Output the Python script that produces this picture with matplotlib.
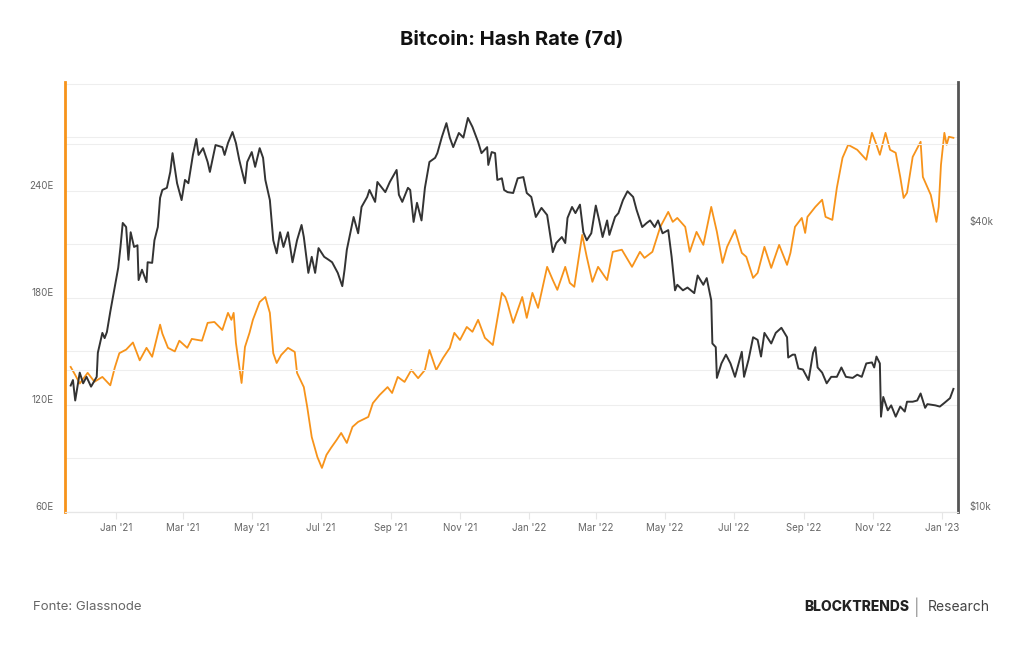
import matplotlib
matplotlib.use("Agg")
import matplotlib.pyplot as plt
import matplotlib.dates as mdates
import matplotlib.ticker as mticker
import pandas as pd

plt.rcParams['font.family'] = ['Inter', 'DejaVu Sans']

# Hash rate (7d MA), in EH/s
hash_dates = [
    "2020-11-22", "2020-11-26", "2020-11-30", "2020-12-07", "2020-12-13", "2020-12-20", "2020-12-27",
    "2020-12-31", "2021-01-04", "2021-01-10", "2021-01-16", "2021-01-22", "2021-01-28", "2021-02-02",
    "2021-02-09", "2021-02-11", "2021-02-16", "2021-02-22", "2021-02-26", "2021-03-05", "2021-03-09",
    "2021-03-18", "2021-03-23", "2021-03-29", "2021-04-05", "2021-04-10", "2021-04-13", "2021-04-15",
    "2021-04-17", "2021-04-22", "2021-04-25", "2021-04-29", "2021-05-02", "2021-05-08", "2021-05-13",
    "2021-05-17", "2021-05-20", "2021-05-23", "2021-05-27", "2021-06-02", "2021-06-08", "2021-06-10",
    "2021-06-16", "2021-06-19", "2021-06-23", "2021-06-28", "2021-07-02", "2021-07-06", "2021-07-10",
    "2021-07-15", "2021-07-19", "2021-07-24", "2021-07-29", "2021-08-03", "2021-08-12", "2021-08-16",
    "2021-08-22", "2021-08-29", "2021-09-02", "2021-09-07", "2021-09-13", "2021-09-19", "2021-09-25",
    "2021-10-01", "2021-10-05", "2021-10-11", "2021-10-17", "2021-10-23", "2021-10-27", "2021-11-01",
    "2021-11-07", "2021-11-12", "2021-11-17", "2021-11-23", "2021-11-30", "2021-12-08", "2021-12-11",
    "2021-12-13", "2021-12-18", "2021-12-26", "2021-12-30", "2022-01-04", "2022-01-09", "2022-01-17",
    "2022-01-22", "2022-01-26", "2022-02-02", "2022-02-06", "2022-02-10", "2022-02-17", "2022-02-21",
    "2022-02-26", "2022-03-03", "2022-03-11", "2022-03-16", "2022-03-24", "2022-04-02", "2022-04-09",
    "2022-04-13", "2022-04-20", "2022-04-27", "2022-05-04", "2022-05-08", "2022-05-12", "2022-05-19",
    "2022-05-23", "2022-05-29", "2022-06-04", "2022-06-11", "2022-06-16", "2022-06-21", "2022-06-25",
    "2022-07-02", "2022-07-08", "2022-07-12", "2022-07-18", "2022-07-22", "2022-07-28", "2022-08-03",
    "2022-08-10", "2022-08-17", "2022-08-20", "2022-08-24", "2022-08-30", "2022-09-02", "2022-09-04",
    "2022-09-11", "2022-09-17", "2022-09-20", "2022-09-26", "2022-09-30", "2022-10-05", "2022-10-10",
    "2022-10-18", "2022-10-22", "2022-10-26", "2022-10-31", "2022-11-04", "2022-11-07", "2022-11-12",
    "2022-11-16", "2022-11-21", "2022-11-25", "2022-11-28", "2022-12-01", "2022-12-06", "2022-12-13",
    "2022-12-15", "2022-12-22", "2022-12-27", "2022-12-29", "2022-12-31", "2023-01-03", "2023-01-05",
    "2023-01-07", "2023-01-11",
]
hash_values = [
    141.3, 136.8, 132.0, 138.0, 133.0, 135.7, 131.0,
    141.0, 149.0, 151.0, 155.0, 145.0, 152.0, 147.0,
    165.0, 160.0, 152.0, 150.0, 156.0, 152.0, 157.0,
    156.0, 166.0, 166.5, 162.0, 171.6, 167.7, 171.6,
    154.8, 132.3, 152.5, 160.4, 167.7, 177.7, 180.5,
    171.6, 149.0, 143.5, 148.0, 152.0, 149.7, 138.0,
    130.0, 118.9, 102.0, 90.8, 84.7, 92.0, 95.9,
    100.4, 104.3, 98.7, 107.7, 110.5, 113.3, 121.0,
    125.6, 130.0, 126.7, 135.7, 132.9, 139.6, 135.0,
    139.6, 150.8, 139.6, 146.3, 152.0, 160.4, 156.4,
    163.7, 161.0, 167.7, 157.6, 153.6, 182.8, 180.5,
    177.0, 166.0, 180.5, 168.8, 182.8, 174.4, 197.4,
    190.0, 184.5, 197.4, 188.4, 186.2, 215.3, 203.0,
    189.0, 197.4, 190.0, 205.8, 207.0, 197.4, 205.8,
    202.4, 205.8, 219.8, 228.2, 222.6, 224.8, 219.8,
    205.8, 217.0, 209.7, 231.0, 217.0, 199.6, 208.6,
    218.0, 205.2, 203.0, 191.2, 194.0, 208.6, 196.8,
    209.7, 198.5, 205.2, 219.8, 224.8, 216.4, 225.4,
    231.0, 235.0, 225.4, 223.7, 241.7, 258.5, 265.8,
    263.0, 260.2, 257.4, 272.5, 265.8, 260.2, 272.5,
    263.0, 261.3, 247.8, 236.0, 238.9, 259.0, 267.5,
    247.8, 237.7, 222.6, 231.0, 254.6, 272.5, 265.8,
    270.3, 269.7,
]

# BTC price, in USD thousands
price_dates = [
    "2020-11-22", "2020-11-24", "2020-11-26", "2020-11-30", "2020-12-03", "2020-12-06", "2020-12-10",
    "2020-12-15", "2020-12-16", "2020-12-20", "2020-12-22", "2020-12-24", "2020-12-27", "2020-12-30",
    "2021-01-03", "2021-01-05", "2021-01-07", "2021-01-10", "2021-01-12", "2021-01-14", "2021-01-17",
    "2021-01-20", "2021-01-21", "2021-01-24", "2021-01-28", "2021-01-29", "2021-02-02", "2021-02-04",
    "2021-02-07", "2021-02-09", "2021-02-11", "2021-02-15", "2021-02-18", "2021-02-20", "2021-02-24",
    "2021-02-28", "2021-03-03", "2021-03-06", "2021-03-10", "2021-03-13", "2021-03-15", "2021-03-19",
    "2021-03-23", "2021-03-25", "2021-03-30", "2021-04-05", "2021-04-07", "2021-04-10", "2021-04-14",
    "2021-04-17", "2021-04-20", "2021-04-25", "2021-04-27", "2021-05-01", "2021-05-04", "2021-05-08",
    "2021-05-11", "2021-05-13", "2021-05-17", "2021-05-20", "2021-05-23", "2021-05-26", "2021-05-29",
    "2021-06-02", "2021-06-06", "2021-06-10", "2021-06-14", "2021-06-16", "2021-06-20", "2021-06-23",
    "2021-06-26", "2021-06-29", "2021-07-04", "2021-07-08", "2021-07-11", "2021-07-16", "2021-07-20",
    "2021-07-22", "2021-07-24", "2021-07-30", "2021-08-03", "2021-08-06", "2021-08-11", "2021-08-13",
    "2021-08-18", "2021-08-20", "2021-08-27", "2021-08-31", "2021-09-06", "2021-09-08", "2021-09-11",
    "2021-09-16", "2021-09-18", "2021-09-21", "2021-09-24", "2021-09-28", "2021-10-01", "2021-10-05",
    "2021-10-10", "2021-10-12", "2021-10-16", "2021-10-20", "2021-10-23", "2021-10-26", "2021-10-31",
    "2021-11-04", "2021-11-08", "2021-11-12", "2021-11-17", "2021-11-20", "2021-11-25", "2021-11-26",
    "2021-11-29", "2021-12-02", "2021-12-04", "2021-12-08", "2021-12-10", "2021-12-13", "2021-12-18",
    "2021-12-22", "2021-12-27", "2021-12-30", "2022-01-03", "2022-01-07", "2022-01-12", "2022-01-17",
    "2022-01-22", "2022-01-25", "2022-01-30", "2022-02-02", "2022-02-04", "2022-02-08", "2022-02-11",
    "2022-02-15", "2022-02-18", "2022-02-21", "2022-02-25", "2022-03-01", "2022-03-04", "2022-03-07",
    "2022-03-11", "2022-03-13", "2022-03-18", "2022-03-21", "2022-03-25", "2022-03-29", "2022-04-03",
    "2022-04-06", "2022-04-11", "2022-04-15", "2022-04-18", "2022-04-22", "2022-04-25", "2022-04-29",
    "2022-05-04", "2022-05-07", "2022-05-10", "2022-05-12", "2022-05-17", "2022-05-21", "2022-05-27",
    "2022-05-30", "2022-06-04", "2022-06-07", "2022-06-11", "2022-06-12", "2022-06-15", "2022-06-16",
    "2022-06-20", "2022-06-24", "2022-06-28", "2022-07-02", "2022-07-08", "2022-07-10", "2022-07-14",
    "2022-07-18", "2022-07-22", "2022-07-25", "2022-07-28", "2022-08-03", "2022-08-07", "2022-08-12",
    "2022-08-17", "2022-08-18", "2022-08-22", "2022-08-24", "2022-08-27", "2022-08-31", "2022-09-05",
    "2022-09-09", "2022-09-11", "2022-09-13", "2022-09-17", "2022-09-21", "2022-09-25", "2022-09-30",
    "2022-10-04", "2022-10-08", "2022-10-14", "2022-10-18", "2022-10-22", "2022-10-26", "2022-10-31",
    "2022-11-02", "2022-11-04", "2022-11-07", "2022-11-08", "2022-11-10", "2022-11-14", "2022-11-17",
    "2022-11-21", "2022-11-25", "2022-11-29", "2022-12-01", "2022-12-06", "2022-12-10", "2022-12-13",
    "2022-12-17", "2022-12-19", "2022-12-26", "2022-12-30", "2023-01-03", "2023-01-08", "2023-01-11",
]
price_values = [
    18.5, 19.0, 17.2, 19.7, 18.7, 19.3, 18.4,
    19.3, 21.7, 23.9, 23.3, 24.0, 26.5, 29.0,
    32.8, 36.3, 40.8, 40.0, 34.1, 39.0, 36.3,
    36.6, 30.9, 32.5, 30.6, 33.7, 33.6, 37.5,
    40.0, 46.1, 47.9, 48.4, 52.3, 57.3, 49.5,
    45.6, 50.3, 49.5, 56.8, 61.4, 56.8, 58.7,
    54.9, 52.3, 59.6, 59.0, 56.8, 60.2, 63.5,
    60.2, 55.4, 49.5, 54.9, 57.6, 53.6, 58.7,
    56.0, 50.3, 45.6, 37.5, 35.2, 39.0, 36.3,
    39.0, 33.7, 37.5, 40.4, 38.1, 32.0, 34.6,
    32.0, 36.1, 34.6, 34.1, 33.7, 32.0, 30.0,
    32.5, 35.8, 42.0, 38.8, 44.1, 46.3, 47.9,
    45.2, 49.8, 47.4, 49.8, 52.8, 46.8, 45.2,
    48.4, 47.9, 41.0, 45.0, 41.3, 48.4, 54.9,
    56.0, 57.3, 62.0, 66.3, 61.8, 59.0, 63.2,
    61.8, 68.0, 65.1, 60.5, 57.3, 59.0, 54.1,
    57.6, 57.3, 50.3, 50.7, 47.9, 47.4, 47.2,
    50.7, 51.0, 47.2, 46.3, 42.0, 43.9, 42.4,
    35.4, 37.0, 38.1, 37.0, 41.8, 44.1, 42.8,
    44.6, 39.0, 37.5, 38.8, 44.4, 41.3, 38.1,
    41.3, 38.5, 42.0, 42.8, 45.6, 47.6, 46.3,
    43.5, 40.0, 40.8, 41.3, 40.0, 41.3, 38.8,
    39.4, 34.6, 29.4, 30.2, 29.4, 29.8, 29.0,
    31.6, 30.2, 31.2, 28.0, 22.7, 22.3, 19.2,
    20.6, 21.5, 20.6, 19.3, 21.8, 19.3, 21.0,
    23.4, 23.1, 21.3, 23.9, 22.7, 23.9, 24.5,
    23.4, 21.2, 21.5, 21.5, 20.1, 20.0, 19.0,
    21.7, 22.3, 20.2, 19.7, 18.7, 19.3, 19.3,
    20.2, 19.3, 19.2, 19.5, 19.3, 20.6, 20.7,
    20.2, 21.3, 20.6, 15.9, 17.5, 16.4, 16.8,
    15.9, 16.7, 16.3, 17.1, 17.1, 17.2, 17.8,
    16.6, 16.9, 16.8, 16.7, 17.0, 17.4, 18.2,
]

hash_ticks = [60, 120, 180, 240]
hash_grid = [90, 150, 210, 270, 300]
price_ticks = [10, 40]
price_grid = [20, 60]

ORANGE = "#F7931A"
DARK = "#333333"
GRID = "#EEEEEE"
TXT = "#666666"

fig = plt.figure(figsize=(10.24, 6.45), dpi=100)
ax = fig.add_axes([0.0635, 0.2062, 0.872, 0.6667])
ax2 = ax.twinx()

hd = pd.to_datetime(hash_dates)
pdt = pd.to_datetime(price_dates)

ax.plot(hd, hash_values, color=ORANGE, lw=1.3, zorder=3)
ax2.plot(pdt, [v * 1000 for v in price_values], color=DARK, lw=1.4, zorder=3)

ax.set_ylim(60, 301)
ax.set_yticks(hash_ticks)
ax.set_yticks(hash_grid, minor=True)
ax.set_yticklabels([f"{v}E" for v in hash_ticks], va="bottom")
ax.grid(True, which="both", axis="y", color=GRID, lw=0.8)
ax.tick_params(axis="y", which="both", length=0, labelsize=7, labelcolor=TXT, pad=8)

ax2.set_yscale("log")
ax2.set_ylim(10000, 81000)
ax2.yaxis.set_major_locator(mticker.FixedLocator([v * 1000 for v in price_ticks]))
ax2.yaxis.set_minor_locator(mticker.NullLocator())
ax2.yaxis.set_major_formatter(mticker.FuncFormatter(lambda v, p: f"${v/1000:.0f}k"))
ax2.tick_params(axis="y", length=0, labelsize=7, labelcolor=TXT, pad=8)
for lbl in ax2.get_yticklabels():
    lbl.set_va("bottom")
for v in price_grid:
    ax2.axhline(v * 1000, color=GRID, lw=0.8, zorder=0)

ax.set_xlim(pd.Timestamp("2020-11-17"), pd.Timestamp("2023-01-15"))
ax.xaxis.set_major_locator(mdates.MonthLocator(bymonth=[1, 3, 5, 7, 9, 11]))
ax.xaxis.set_major_formatter(mdates.DateFormatter("%b '%y"))
ax.tick_params(axis="x", length=5, color="#E6E6E6", labelsize=7, labelcolor=TXT, pad=3)

for a in (ax, ax2):
    a.spines["top"].set_visible(False)
    a.spines["bottom"].set_color("#E6E6E6")
    a.spines["left"].set_visible(False)
    a.spines["right"].set_visible(False)
ax2.spines["left"].set_visible(True)
ax2.spines["left"].set_color(ORANGE)
ax2.spines["left"].set_linewidth(2)
ax2.spines["right"].set_visible(True)
ax2.spines["right"].set_color("#555555")
ax2.spines["right"].set_linewidth(2)

fig.text(0.5, 0.938, "Bitcoin: Hash Rate (7d)", ha="center", va="center",
         fontsize=14.5, fontweight="bold", color="#111111")
fig.text(0.032, 0.059, "Fonte: Glassnode", ha="left", va="center", fontsize=9.5, color=TXT)
fig.text(0.888, 0.059, "BLOCKTRENDS", ha="right", va="center", fontsize=10,
         fontweight="heavy", color="#222222")
fig.text(0.8955, 0.059, "|", ha="center", va="center", fontsize=12, color="#999999")
fig.text(0.906, 0.059, "Research", ha="left", va="center", fontsize=10, color="#444444")

fig.savefig("out.png", dpi=100, facecolor="white")
